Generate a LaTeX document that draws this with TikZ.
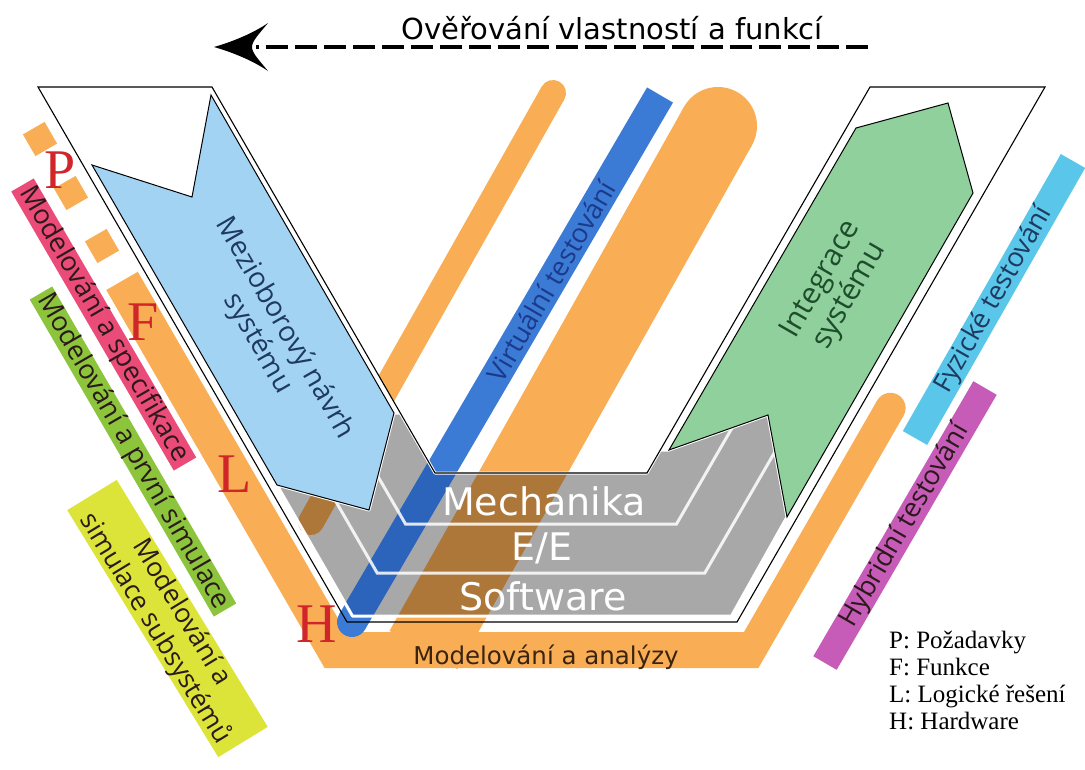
\documentclass[tikz,border=0pt]{standalone}
\usepackage{fontspec}
\setmainfont{Liberation Serif}
\newfontfamily\osans{Open Sans}
\newfontfamily\dvsans{DejaVu Sans}
\definecolor{vorange}{HTML}{F9AE55}
\definecolor{vbrown}{HTML}{AE773A}
\definecolor{vgray}{HTML}{A8A8A8}
\definecolor{vblue}{HTML}{3B7BD6}
\definecolor{vbluedark}{HTML}{2C64BC}
\definecolor{lightblue}{HTML}{A3D3F3}
\definecolor{lightgreen}{HTML}{8FD09C}
\definecolor{lblpink}{HTML}{EB4B78}
\definecolor{lblgreen}{HTML}{8CC43C}
\definecolor{lblyellow}{HTML}{DCE43A}
\definecolor{lblcyan}{HTML}{5AC7EA}
\definecolor{lblmagenta}{HTML}{C65CB8}
\definecolor{letterred}{HTML}{D0262A}
\definecolor{navytext}{HTML}{1F3A5F}
\definecolor{greentext}{HTML}{1E4D2B}
\definecolor{bluetext}{HTML}{1C3A8A}
\definecolor{darklbl}{HTML}{2A1A1A}
\definecolor{browntext}{HTML}{3A2410}

% orange stripes behind the V (drawn in a given colour)
\newcommand\orangeshapes[1]{%
  \fill[#1] (106.3,290) -- (324.6,668) -- (758.4,668) -- (903.6,415.6) -- (877.2,400.4)
        -- (744,632) -- (345.8,632) -- (137.8,271.8) -- cycle;
  \fill[#1] (890.4,408) circle[radius=15.2];
  \draw[#1, line width=26, line cap=round] (553,93) -- (311,522);
  \draw[#1, line width=78] (718,126) -- (423.5,650);
  \fill[#1] (718,126) circle[radius=39];
}
% the "virtual testing" bar
\newcommand\virtbar[1]{%
  \draw[#1, line width=30] (660,95) -- (352,622);
  \fill[#1] (352,622) circle[radius=15];
}

\begin{document}
\begin{tikzpicture}[x=1pt, y=-1pt,
  lbl/.style={font=\osans\fontsize{27}{30}\selectfont, inner sep=0pt},
  layer/.style={font=\dvsans\fontsize{38}{40}\selectfont, text=white, inner sep=0pt, anchor=base},
  letter/.style={font=\fontsize{56}{56}\selectfont, text=letterred, inner sep=0pt, anchor=base},
  legendline/.style={font=\fontsize{25}{28}\selectfont, inner sep=0pt, anchor=base west},
  vline/.style={draw=black, line width=1.1, line join=miter},
  arrowbody/.style={draw=black, line width=1},
  separator/.style={white, opacity=0.85, line width=3}]

\useasboundingbox (0,0) rectangle (1085,769);
\fill[white] (0,0) rectangle (1085,769);

% orange background stripes
\orangeshapes{vorange}
\foreach \cx/\cy in {40/139, 71/193, 102/246}
  \node[fill=vorange, minimum size=25, inner sep=0pt, rotate=30] at (\cx,\cy) {};

% white arms of the V
\fill[white] (38,87) -- (212,87) -- (400.3,413) -- (394,413) -- (369,510) -- (276.9,485) -- (267.9,485) -- cycle;
\fill[white] (870,87) -- (1045,87) -- (797.4,517) -- (787,517) -- (768,415) -- (669,450) -- (660.3,450) -- cycle;

% grey layers at the bottom of the V
\fill[vgray] (276.9,485) -- (369,510) -- (394,413) -- (400.3,413) -- (435,473) -- (647,473)
   -- (660.3,450) -- (669,450) -- (768,415) -- (787,517) -- (731.5,616) -- (352.5,616) -- cycle;
\begin{scope}
  \clip (276.9,485) -- (369,510) -- (394,413) -- (400.3,413) -- (435,473) -- (647,473)
     -- (660.3,450) -- (669,450) -- (768,415) -- (787,517) -- (731.5,616) -- (352.5,616) -- cycle;
  \orangeshapes{vbrown}
\end{scope}

% virtual testing bar
\virtbar{vblue}
\begin{scope}
  \clip (276.9,485) -- (369,510) -- (394,413) -- (400.3,413) -- (435,473) -- (647,473)
     -- (660.3,450) -- (669,450) -- (768,415) -- (787,517) -- (731.5,616) -- (352.5,616) -- cycle;
  \virtbar{vbluedark}
\end{scope}

% white borders and separators of the layers
\draw[white, line width=3, line join=round] (276.9,485) -- (369,510) -- (394,413) -- (400.3,413) -- (435,473) -- (647,473)
   -- (660.3,450) -- (669,450) -- (768,415) -- (787,517) -- (731.5,616) -- (352.5,616) -- cycle;
\draw[separator] (377.7,476) -- (405.5,524) -- (676.5,524) -- (732.2,427.7);
\draw[separator] (335.5,500.9) -- (377.2,573) -- (704.8,573) -- (774.9,451.8);

% design and integration arrows
\draw[arrowbody, fill=lightblue] (92,165) -- (192,197) -- (211,95) -- (394,413) -- (369,510) -- (277,485) -- cycle;
\draw[arrowbody, fill=lightgreen] (669,450) -- (856,128) -- (948,103) -- (973,193) -- (787,517) -- (768,415) -- cycle;

% outline of the V
\draw[vline] (38,87) -- (347,622) -- (737,622) -- (1045,87) -- (870,87) -- (647,473) -- (435,473) -- (212,87) -- cycle;

% layer names
\node[layer] (mech) at (544,515) {Mechanika};
\node[layer] (ee) at (542,560) {E/E};
\node[layer] (sw) at (543,610) {Software};
\node[font=\dvsans\fontsize{24.5}{26}\selectfont, text=browntext, inner sep=0pt, anchor=base] (analyzy) at (546,664) {Modelování a analýzy};

% texts on arrows and bars
\node[lbl, rotate=-60, align=center, text=navytext, font=\osans\fontsize{28}{31}\selectfont] (navrh) at (271,336) {Mezioborový návrh\\systému};
\node[lbl, rotate=60, align=center, text=greentext, font=\osans\fontsize{30}{33}\selectfont] (integrace) at (836,288) {Integrace\\systému};
\node[lbl, rotate=59.7, text=bluetext] (virt) at (551,281) {Virtuální testování};

% left label bars
\draw[lblpink, line width=26] (22.5,185) -- (185,464);
\node[lbl, rotate=-60, text=darklbl] (specif) at (103.75,324.5) {Modelování a specifikace};
\draw[lblgreen, line width=26] (41,293) -- (225,610);
\node[lbl, rotate=-60, text=darklbl] (prvni) at (133,451.5) {Modelování a první simulace};
\draw[lblyellow, line width=58] (92,495) -- (243,742);
\node[lbl, rotate=-58.6, align=center, text=darklbl, font=\osans\fontsize{26.5}{31}\selectfont] (subsys) at (168,621) {Modelování a\\simulace subsystémů};

% right label bars
\draw[lblcyan, line width=28] (915,438) -- (1073,161);
\node[lbl, rotate=60.3, text=navytext] (fyz) at (994,300) {Fyzické testování};
\draw[lblmagenta, line width=27] (825,663) -- (985,388);
\node[lbl, rotate=59.8, text=darklbl] (hybr) at (905,525.5) {Hybridní testování};

% level letters
\node[letter] (lP) at (60,188) {P};
\node[letter] (lF) at (143,340) {F};
\node[letter] (lL) at (235,492) {L};
\node[letter] (lH) at (317,642) {H};

% verification arrow
\coordinate (vstart) at (868,47);
\coordinate (vend) at (256,47);
\draw[line width=3.5, dash pattern=on 22pt off 7pt] (vstart) -- (vend);
\fill (214,47) .. controls (235,41) and (255,32) .. (268,23)
      .. controls (259,34) and (252,41) .. (252,47)
      .. controls (252,53) and (259,60) .. (268,71)
      .. controls (255,62) and (235,53) .. (214,47) -- cycle;
\node[font=\dvsans\fontsize{29}{30}\selectfont, inner sep=0pt, anchor=base] (verify) at (612,39) {Ověřování vlastností a funkcí};

% legend
\node[legendline] (legP) at (889,648) {P: Požadavky};
\node[legendline] (legF) at (889,675) {F: Funkce};
\node[legendline] (legL) at (889,702) {L: Logické řešení};
\node[legendline] (legH) at (889,729) {H: Hardware};
\end{tikzpicture}
\end{document}
